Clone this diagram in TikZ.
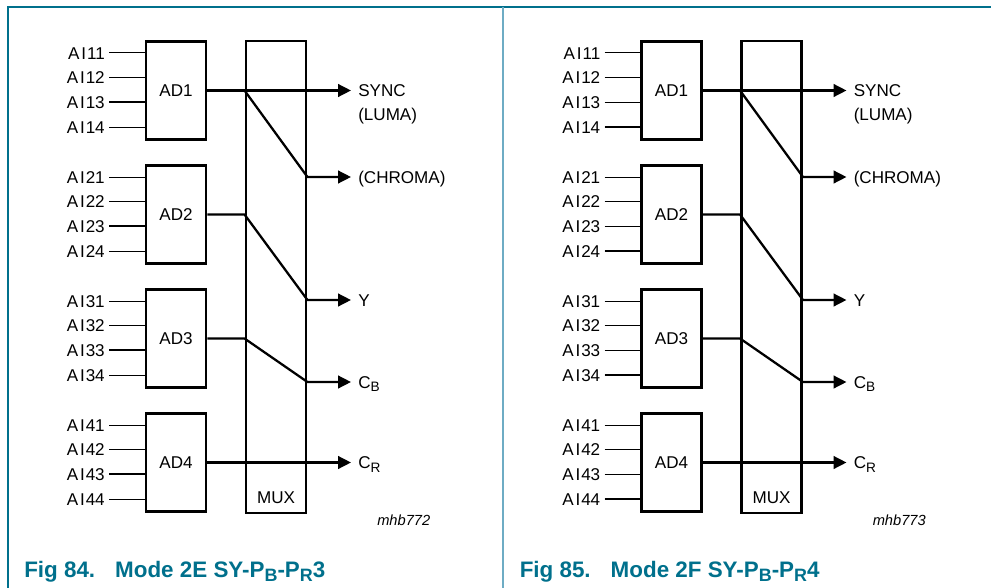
\documentclass[tikz,border=0pt]{standalone}
\usepackage{fontspec}
\setmainfont{Liberation Sans}
\usetikzlibrary{arrows.meta,calc,positioning}
\definecolor{figT}{RGB}{0,112,140}
\definecolor{figL}{RGB}{110,172,196}
\newcommand\lowsub[1]{\raisebox{-0.38ex}{\scalebox{0.8}{#1}}}

\begin{document}
\begin{tikzpicture}[x=0.75pt,y=-0.75pt,
  lbl/.style={inner sep=0pt,font=\fontsize{12.8}{15}\selectfont,text height=9.2pt,text depth=0pt},
  outl/.style={lbl,anchor=west,inner xsep=5.25pt},
  blk/.style={draw,line width=2.2pt,minimum width=45pt,inner sep=0pt,font=\fontsize{12.8}{15}\selectfont},
  adc/.style={blk,minimum height=73.5pt},
  inp/.style={line width=0.75pt},
  inpk/.style={line width=1.6pt},
  sig/.style={line width=1.7pt},
  sigout/.style={sig,-{Triangle[length=9.75pt,width=9.5pt]}}]
\useasboundingbox (0,0) rectangle (991,588);
\draw[figT,line width=1pt] (8,588) -- (8,7) -- (991,7);
\draw[figL,line width=1.5pt] (503,7) -- (503,588);
\foreach \sh/\tk/\fn/\cd/\md/\lst in {0/3/84/mhb772/2E/3,495.5/4/85/mhb773/2F/4}{
\begin{scope}[shift={(\sh,0)}]
\node[blk,minimum height=354pt] (mux) at (276,277) {};
\node[lbl] (muxt) at (276,497) {MUX};
\foreach \i in {1,...,4}{
  \node[adc] (ad\i) at (176,{90.5+124*(\i-1)}) {AD\i};
  \foreach \j in {1,...,4}{
    \node[lbl,anchor=east,inner xsep=3pt] (ai\i\j) at (109,{53+124*(\i-1)+24.67*(\j-1)}) {A\kern1.4pt I\kern0.6pt\i\j};
    \draw[inp] (ai\i\j) -- (ai\i\j -| ad\i.west);
  }
  \draw[inpk] (ai\i\tk) -- (ai\i\tk -| ad\i.west);
}
\node[outl] (sync) at (351,90.5) {SYNC};
\node[lbl,anchor=west] (luma) at (358,114) {(LUMA)};
\node[outl] (chroma) at (351,177) {(CHROMA)};
\node[outl] (yout) at (351,300) {Y};
\node[outl] (cb) at (351,382) {C\lowsub{B}};
\node[outl] (cr) at (351,462.5) {C\lowsub{R}};
\draw[sigout] (ad1) -- (sync);
\draw[sigout] (ad1 -| mux.west) -- (chroma -| mux.east) -- (chroma);
\draw[sigout] (ad2) -- (ad2 -| mux.west) -- (yout -| mux.east) -- (yout);
\draw[sigout] (ad3) -- (ad3 -| mux.west) -- (cb -| mux.east) -- (cb);
\draw[sigout] (ad4) -- (ad4 -| cr.west);
\node[anchor=base west,inner sep=0pt,font=\fontsize{11}{13}\selectfont\itshape] (code) at (377,525) {\cd};
\node[anchor=base west,inner sep=0pt,text=figT,font=\fontsize{16.8}{20}\selectfont\bfseries] (cap) at (24,577)
  {Fig \fn.\hspace{15pt}Mode \md\ SY-P\lowsub{B}-P\lowsub{R}\lst};
\end{scope}
}
\end{tikzpicture}
\end{document}
